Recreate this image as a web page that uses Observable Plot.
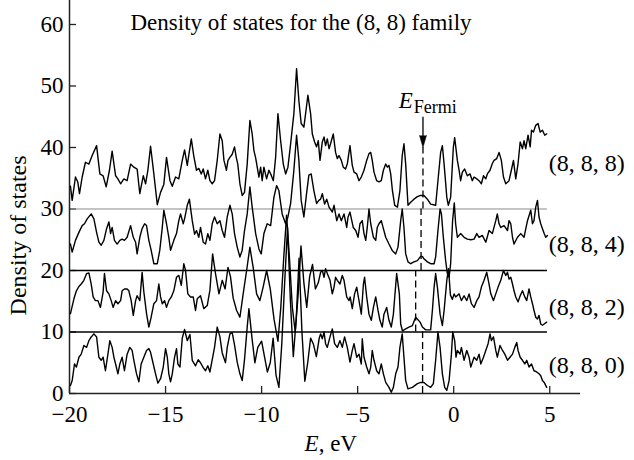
<!DOCTYPE html>
<html><head><meta charset="utf-8">
<script src="https://cdn.jsdelivr.net/npm/d3@7"></script>
<script src="https://cdn.jsdelivr.net/npm/@observablehq/plot@0.6"></script>
<style>body{margin:0;background:#fff} svg{font-family:"Liberation Serif","Times New Roman",serif}</style>
</head><body><div id="chart"></div>
<script>
// ---- data (values as plotted: each family offset by its baseline) ----
const families = ["(8, 8, 8)", "(8, 8, 4)", "(8, 8, 2)", "(8, 8, 0)"];
const baselines = [30, 20, 10, 0];
const labelY = [37.4, 24.2, 14.0, 4.55];
const fermiE = [-1.6, -1.7, -1.98, -1.62];
const fermiTop = [40, 30, 20, 10];
const xTicks = [-20, -15, -10, -5, 0, 5];
const yTicks = [0, 10, 20, 30, 40, 50, 60];

const e888 = [-19.95,-19.86,-19.69,-19.57,-19.48,-19.34,-19.17,-18.99,-18.82,-18.59,-18.42,-18.25,-18.09,-17.92,-17.78,-17.6,-17.48,-17.34,-17.17,-17,-16.82,-16.65,-16.48,-16.34,-16.16,-16.04,-15.92,-15.78,-15.61,-15.43,-15.26,-15.09,-14.95,-14.77,-14.65,-14.48,-14.31,-14.13,-14.01,-13.87,-13.66,-13.53,-13.39,-13.27,-13.14,-13.04,-12.92,-12.8,-12.69,-12.57,-12.45,-12.31,-12.17,-12.05,-11.96,-11.83,-11.75,-11.65,-11.53,-11.41,-11.32,-11.24,-11.13,-11.01,-10.89,-10.75,-10.61,-10.49,-10.4,-10.31,-10.14,-10.05,-9.97,-9.88,-9.74,-9.62,-9.5,-9.39,-9.27,-9.15,-9.01,-8.87,-8.75,-8.63,-8.49,-8.32,-8.18,-8.06,-7.94,-7.8,-7.71,-7.59,-7.45,-7.36,-7.24,-7.14,-7.05,-6.96,-6.84,-6.75,-6.67,-6.58,-6.49,-6.41,-6.27,-6.15,-6.06,-5.97,-5.85,-5.75,-5.63,-5.54,-5.4,-5.28,-5.19,-5.05,-4.93,-4.81,-4.67,-4.53,-4.41,-4.32,-4.24,-4.15,-4.01,-3.89,-3.77,-3.66,-3.54,-3.45,-3.37,-3.28,-3.19,-3.07,-2.93,-2.8,-2.68,-2.59,-2.5,-2.38,-2.24,-2.07,-1.89,-1.72,-1.55,-1.37,-1.2,-0.94,-0.82,-0.68,-0.59,-0.5,-0.36,-0.28,-0.16,-0.02,0.05,0.19,0.28,0.36,0.45,0.57,0.71,0.85,0.97,1.06,1.2,1.32,1.44,1.55,1.67,1.75,1.89,2.01,2.1,2.24,2.36,2.48,2.59,2.71,2.88,3,3.11,3.23,3.35,3.46,3.58,3.66,3.75,3.87,3.98,4.05,4.15,4.27,4.39,4.5,4.62,4.74,4.84];
const v888 = [33.7,31.4,35.2,34.4,32.5,35.2,37.6,37.3,38.7,40.3,35.7,35.4,33.6,36.3,39.4,35.4,34.9,34.1,34.9,34.6,37.3,36.8,36.5,32.5,35.4,34.1,36.3,40.2,35.7,30.7,32.7,34,38.4,34.6,33.7,35.2,34.9,37.9,39.6,37.1,41.4,38.6,36.3,36.6,35.7,36.5,34.9,36.3,34.6,34.1,34.6,37.9,42.2,41.1,37.9,36.3,37.9,38.4,38.9,40.1,38.4,37.3,34.1,32.2,32.7,37.3,44.4,42.2,39.5,38.3,35.2,36.8,34.6,36.8,34.9,36.3,35.5,34.6,38.4,45.5,41.1,37.3,35.7,36.8,40.6,45.5,52.8,47.6,43.9,43.3,45.5,48.5,45.5,42.2,40.9,40.1,41.1,37.9,40.9,41.7,40.3,41.4,39.8,40.6,42.2,39.2,38.2,38.7,37.9,36.8,36.5,37.3,40.3,37.1,36,35.7,34.6,35.2,36.3,37.9,39,39.2,37.9,36,34.6,34.4,34.6,36.3,37.3,36.8,37.1,35.7,33,30.6,30.3,33,38.7,40.6,37.3,30.6,31.1,31.6,32,32.2,32.2,31.6,30.8,30.6,34.6,39.2,40.3,37.3,31.9,30.6,31.9,40,41.6,37.9,36.3,34.6,36,36.5,35.4,35.7,34.6,35.2,34.9,34.6,34.1,35.4,34.9,35.7,36.3,37.4,37.9,38.2,39.2,37.9,35.2,34.1,34.6,36.3,37.9,34.9,37.4,40.9,39.8,41.1,39.8,42,40.1,42.8,42.5,43.6,43.9,42.5,42.8,42,42.2];

const e884 = [-19.95,-19.86,-19.69,-19.51,-19.34,-19.22,-19.08,-18.87,-18.73,-18.59,-18.47,-18.35,-18.21,-18.07,-17.95,-17.86,-17.78,-17.66,-17.52,-17.38,-17.26,-17.14,-17,-16.82,-16.68,-16.56,-16.48,-16.34,-16.22,-16.09,-15.99,-15.87,-15.75,-15.61,-15.43,-15.3,-15.17,-15.09,-14.95,-14.83,-14.74,-14.57,-14.43,-14.31,-14.22,-14.08,-14.01,-13.87,-13.76,-13.61,-13.49,-13.39,-13.27,-13.18,-13.04,-12.92,-12.8,-12.69,-12.57,-12.45,-12.31,-12.17,-12.05,-11.93,-11.79,-11.65,-11.53,-11.41,-11.27,-11.13,-11.01,-10.89,-10.75,-10.61,-10.49,-10.31,-10.14,-10.02,-9.88,-9.71,-9.53,-9.36,-9.22,-9.1,-8.93,-8.75,-8.63,-8.49,-8.32,-8.18,-8.06,-7.94,-7.8,-7.66,-7.54,-7.42,-7.28,-7.14,-7.02,-6.93,-6.84,-6.72,-6.61,-6.49,-6.32,-6.23,-6.09,-5.97,-5.85,-5.71,-5.57,-5.5,-5.4,-5.23,-5.1,-4.98,-4.88,-4.76,-4.67,-4.58,-4.5,-4.41,-4.32,-4.18,-4.06,-3.98,-3.89,-3.77,-3.66,-3.54,-3.37,-3.19,-3.02,-2.9,-2.76,-2.68,-2.59,-2.5,-2.38,-2.24,-2.07,-1.89,-1.72,-1.63,-1.55,-1.37,-1.2,-1.02,-0.94,-0.82,-0.71,-0.64,-0.54,-0.42,-0.33,-0.24,-0.16,-0.06,0.03,0.1,0.19,0.36,0.54,0.71,0.89,1.06,1.2,1.32,1.49,1.67,1.84,2.01,2.19,2.27,2.36,2.45,2.62,2.8,2.88,2.97,3.06,3.14,3.32,3.49,3.66,3.84,4.01,4.1,4.18,4.27,4.36,4.44,4.53,4.62,4.71,4.79,4.88];
const v884 = [24.3,23,24.9,26.2,27.3,27.6,28.4,29.2,28.4,26.2,24.6,24.1,24.9,26.8,27.9,26,27,24.9,24.3,24.9,25.1,24.9,25.4,27.3,25.4,24.6,22.7,25.4,26.8,27.6,27.3,24.9,23.3,21.1,21.1,23.3,27,29.8,27.6,25.4,23.3,24.9,26,28.1,29.2,27.6,28.4,30.6,31.6,28.1,25.9,26.5,25.4,27,24.6,24.3,26,24.9,27.6,28.7,27.6,28.1,26.5,25.4,28.7,30.6,29.2,26,23.8,22.2,23.3,26.5,29.2,33.6,30.3,26,23.5,22.7,26,27.6,27.3,31.9,33.8,33,29.2,27.6,28.7,30.9,36.3,42,37.9,31.4,28.7,32.5,35.5,35.7,33,30.9,31.4,31.6,32.5,30.8,31.6,30.3,29.5,30.6,28.1,29.2,28.1,29.2,27,28.7,29.5,27,26.5,25.4,27.6,28.1,26,24.9,27,30,27.6,25.4,24.9,27,27.6,28.1,26.8,25.4,24.3,23.2,22.7,23.8,28.1,30,27,22.7,21.4,21.1,21.4,21.6,22.3,22.3,21.9,21.4,21.1,21.1,22.2,26.5,30,29.2,25.4,21.6,19.5,18.9,21.1,28,31,27.6,25.4,26,25.4,25.1,25,25.1,26,25.4,25.7,24.6,26.5,26,28.1,29.2,27.6,27,27.3,26.5,28.1,27.6,25.4,24.3,25.4,26,25.4,28.1,29.8,27.6,28.1,30.3,31.4,28.7,27.6,26.8,26,25.4,25.7];

const e882 = [-19.95,-19.77,-19.64,-19.51,-19.39,-19.25,-19.11,-18.99,-18.87,-18.77,-18.65,-18.52,-18.39,-18.25,-18.18,-18.07,-17.95,-17.83,-17.73,-17.6,-17.48,-17.34,-17.26,-17.14,-17,-16.91,-16.79,-16.68,-16.56,-16.48,-16.34,-16.22,-16.13,-15.99,-15.87,-15.75,-15.61,-15.47,-15.35,-15.26,-15.17,-15.05,-14.95,-14.83,-14.7,-14.57,-14.43,-14.31,-14.18,-14.05,-13.96,-13.84,-13.7,-13.56,-13.44,-13.35,-13.18,-13.01,-12.83,-12.69,-12.55,-12.4,-12.22,-12.05,-11.9,-11.75,-11.62,-11.48,-11.3,-11.13,-10.96,-10.78,-10.61,-10.44,-10.26,-10.09,-9.92,-9.74,-9.55,-9.35,-9.15,-9,-8.85,-8.7,-8.55,-8.4,-8.25,-8.1,-7.95,-7.8,-7.65,-7.5,-7.35,-7.2,-7.05,-6.93,-6.84,-6.75,-6.67,-6.58,-6.44,-6.32,-6.23,-6.15,-6.06,-5.92,-5.8,-5.71,-5.57,-5.45,-5.39,-5.28,-5.16,-5.05,-4.93,-4.81,-4.7,-4.64,-4.53,-4.41,-4.29,-4.18,-4.06,-3.94,-3.84,-3.72,-3.63,-3.49,-3.37,-3.25,-3.14,-3.07,-2.97,-2.83,-2.76,-2.67,-2.5,-2.33,-2.15,-1.98,-1.75,-1.63,-1.46,-1.2,-1.11,-1.02,-0.94,-0.85,-0.71,-0.59,-0.5,-0.36,-0.27,-0.17,-0.07,0.02,0.1,0.28,0.4,0.54,0.68,0.8,0.92,1.06,1.2,1.32,1.44,1.58,1.72,1.84,1.93,2.07,2.19,2.31,2.45,2.59,2.71,2.8,2.88,2.97,3.06,3.14,3.23,3.35,3.46,3.58,3.7,3.8,3.92,4.01,4.1,4.18,4.27,4.36,4.44,4.53,4.62,4.71,4.84];
const v882 = [13,15.4,16.7,17.4,17.8,18.4,19.5,19.6,17.8,15.7,15.1,15.1,14,16.5,19.5,16.7,16.2,15.1,14,15.1,14.6,15.1,16.7,17,17,16.7,15.1,12.7,15.1,15.9,15.1,19.7,16.5,13,10.8,12.4,14.6,15.1,17.8,15.7,14.6,15.1,14,15.1,15.7,16.7,18.9,19.2,17.6,21.1,20,16.2,15.7,15.7,13.5,15.4,15.9,13.8,14.3,16.8,22.7,19.5,16.2,18.4,17,20.5,19,15.5,13.5,12.4,16.2,20,23.8,20.5,16.2,15.1,17.3,20,17,12,8.5,14,22,29,22,14,10,16,24,18,14,19,21,17,18,19.7,20,18.9,20.3,19.5,18.4,16.2,17.3,18.9,18.4,17.8,19.2,18.4,15.7,15.1,15.7,13.8,16.2,17.3,15.1,12.9,17.8,18.9,15.7,12.9,11.9,14,15.7,13.5,11.9,10.8,12.9,14,11.9,10.8,12.9,15.7,19.5,16.2,11.3,10.2,10.5,10.8,11.05,12.4,11.6,10.8,10.35,10.35,13.5,17.3,19.5,17.3,12.9,11.05,13.5,18.4,20.3,16,15.3,16.2,15.7,16.2,15.1,15.9,15.1,16.2,14.6,14,15.1,15.7,17.3,18.4,19.7,17.8,16.2,15.1,16.2,17.3,18.4,20,19.2,19.7,18.6,18.9,17.8,16.7,15.7,14.9,15.9,16.7,15.7,15.1,17,15.7,14.6,13.5,12.4,12.1,12.7,11.3,11.1,11.3,11.6];

const e880 = [-19.95,-19.86,-19.74,-19.64,-19.51,-19.39,-19.25,-19.11,-18.99,-18.87,-18.73,-18.59,-18.47,-18.35,-18.25,-18.13,-18,-17.9,-17.78,-17.69,-17.6,-17.48,-17.38,-17.26,-17.14,-17,-16.86,-16.74,-16.65,-16.51,-16.39,-16.27,-16.13,-15.99,-15.87,-15.78,-15.64,-15.52,-15.4,-15.26,-15.12,-15,-14.91,-14.83,-14.74,-14.65,-14.53,-14.43,-14.36,-14.25,-14.13,-14.01,-13.87,-13.73,-13.61,-13.44,-13.3,-13.18,-13.04,-12.92,-12.8,-12.69,-12.57,-12.45,-12.31,-12.17,-12.05,-11.88,-11.79,-11.65,-11.53,-11.41,-11.27,-11.13,-11.01,-10.89,-10.75,-10.66,-10.5,-10.35,-10.2,-10,-9.85,-9.7,-9.55,-9.4,-9.25,-9.1,-8.95,-8.8,-8.65,-8.5,-8.35,-8.2,-8.05,-7.9,-7.75,-7.6,-7.45,-7.3,-7.15,-7,-6.93,-6.84,-6.75,-6.67,-6.58,-6.44,-6.32,-6.2,-6.06,-5.92,-5.8,-5.68,-5.54,-5.4,-5.28,-5.19,-5.05,-4.93,-4.81,-4.76,-4.67,-4.53,-4.41,-4.32,-4.24,-4.15,-4.01,-3.89,-3.77,-3.66,-3.54,-3.37,-3.25,-3.14,-3.02,-2.9,-2.8,-2.68,-2.59,-2.5,-2.38,-2.15,-1.89,-1.72,-1.55,-1.37,-1.2,-1.06,-0.94,-0.82,-0.71,-0.59,-0.47,-0.36,-0.24,-0.12,-0.05,0.05,0.12,0.19,0.33,0.4,0.54,0.68,0.8,0.89,1.06,1.2,1.32,1.41,1.55,1.67,1.79,1.89,1.96,2.07,2.19,2.27,2.41,2.54,2.66,2.8,2.93,3.06,3.18,3.28,3.35,3.46,3.58,3.7,3.8,3.92,4.05,4.18,4.32,4.44,4.53,4.62,4.71,4.84];
const v880 = [1.3,2.1,4.8,4.3,5.9,6.4,7.8,7.5,8.6,9.2,9.7,9.2,5.9,5.4,5.9,3.7,6.4,8.6,7.5,5.9,4.8,3.2,4.8,5.9,3.7,6.4,7.5,7,5.4,3.2,1.9,4.8,5.9,7,7.3,6.7,4.8,3.2,1.7,2.4,4.3,7.3,5.9,3.2,1.9,3.2,5.9,7.3,4.8,4.3,9,10.4,8.6,9.6,5.4,4.5,5.5,5,4.2,3.7,4.5,3.5,5.5,7.5,10.8,9.2,6.6,5,7.5,9.7,9.9,7.9,5.1,3.2,2.1,5.5,10.8,13.8,9,5,7.5,8.5,6,3.5,5,9,3,1,8,18,27,15,6,12,22,10,2,5,9,8,6,9,9.7,8.9,10,8.1,7.5,9.2,10.5,8.1,7.5,8.6,7.5,9.2,7.5,5.1,7,8.1,5.9,6.4,4.8,8.9,5.9,4.3,3.2,4.3,7,5.4,3.7,3.2,4.8,3.2,1.8,1,0.2,1,3.2,4.3,7.5,9.7,5.9,2.1,0.75,1,1.6,1.8,1.8,1.3,1,1.6,5.4,10,7.5,3.2,1,0.5,2.1,6.4,10,8.6,5.9,7,6.4,7.5,5.4,7,5.9,4.3,5.9,5.4,6.4,4.8,5.9,7,8.1,9.7,8.6,9.2,7,5.9,7.8,7,6.4,5.4,5.9,6.4,7.5,8.3,7,5.9,5.4,4.8,5.4,4.3,4.8,3.7,3.5,3.2,2.9,2.1,1.8,1];

// ---- tables built from the arrays ----
const series = [[e888, v888], [e884, v884], [e882, v882], [e880, v880]];
const rows = series.flatMap(([es, vs], i) => es.map((e, k) => ({family: families[i], e, v: vs[k]})));
const labels = families.map((f, i) => ({f, y: labelY[i]}));
const fermi = fermiE.map((e, i) => ({e, y1: baselines[i], y2: fermiTop[i]}));

const X0 = -20, X1 = 6.6, Y1 = 63.9;
const serif = '"Liberation Serif", "Times New Roman", serif';
const fmt = d => (d < 0 ? "\u2212" + (-d) : String(d));
const T = {fontFamily: serif, fill: "black"};

const chart = Plot.plot({
  width: 634, height: 460,
  marginLeft: 69, marginRight: 54, marginTop: 0, marginBottom: 67,
  x: {domain: [X0, X1]},
  y: {domain: [0, Y1]},
  style: {fontFamily: serif, background: "white", color: "black"},
  marks: [
    Plot.axisX({ticks: xTicks, tickSize: 0, tickPadding: 12, fontSize: 23, fontFamily: serif, tickFormat: fmt, label: null}),
    Plot.axisY({ticks: yTicks, tickSize: 0, tickPadding: 6, fontSize: 23, fontFamily: serif, label: null}),
    Plot.ruleX(xTicks, {x: d => d, y1: 0, y2: 7 / 6.15, stroke: "#222", strokeWidth: 1.3}),
    Plot.ruleY(yTicks, {y: d => d, x1: X0, x2: X0 + 7 / 19.21, stroke: "#222", strokeWidth: 1.3}),
    Plot.ruleY([30], {x1: X0, x2: 4.88, stroke: "#8a8a8a", strokeWidth: 1}),
    Plot.ruleY([10, 20], {x1: X0, x2: 4.88, stroke: "black", strokeWidth: 1.4}),
    Plot.ruleY([0], {x1: X0, x2: X1, stroke: "#222", strokeWidth: 1.5}),
    Plot.ruleX([X0], {y1: 0, y2: Y1, stroke: "#222", strokeWidth: 1.5}),
    Plot.ruleX(fermi, {x: "e", y1: "y1", y2: "y2", stroke: "black", strokeWidth: 1.3, strokeDasharray: "7,4"}),
    Plot.line(rows, {x: "e", y: "v", z: "family", stroke: "black", strokeWidth: 1.4, strokeLinejoin: "round"}),
    Plot.ruleX([-1.6], {y1: 41.8, y2: 44.9, stroke: "black", strokeWidth: 1.3}),
    Plot.vector([0], {x: -1.6, y: 40, length: 12, rotate: 180, shape: "spike", r: 3.5, anchor: "end", fill: "black", stroke: "black", strokeWidth: 0.5}),
    Plot.text(labels, {...T, x: 4.95, y: "y", text: "f", textAnchor: "start", lineAnchor: "middle", fontSize: 24}),
    Plot.text(["E"], {...T, x: -2.865, y: 47.6, textAnchor: "start", lineAnchor: "middle", fontSize: 23, fontStyle: "italic"}),
    Plot.text(["Fermi"], {...T, x: -2.083, y: 46.6, textAnchor: "start", lineAnchor: "middle", fontSize: 18}),
    Plot.text(["Density of states for the (8, 8) family"], {...T, frameAnchor: "top-left", dx: 61, dy: 22, textAnchor: "start", lineAnchor: "middle", fontSize: 23}),
    Plot.text(["Density of states"], {...T, x: X0, y: 25.7, dx: -51, rotate: -90, textAnchor: "middle", lineAnchor: "middle", fontSize: 24}),
    Plot.text(["E"], {...T, x: -7.03, y: 0, dy: 50, textAnchor: "end", lineAnchor: "middle", fontSize: 23, fontStyle: "italic"}),
    Plot.text([", eV"], {...T, x: -7.03, y: 0, dy: 50, textAnchor: "start", lineAnchor: "middle", fontSize: 23})
  ]
});
document.getElementById("chart").appendChild(chart);
</script>
</body></html>
